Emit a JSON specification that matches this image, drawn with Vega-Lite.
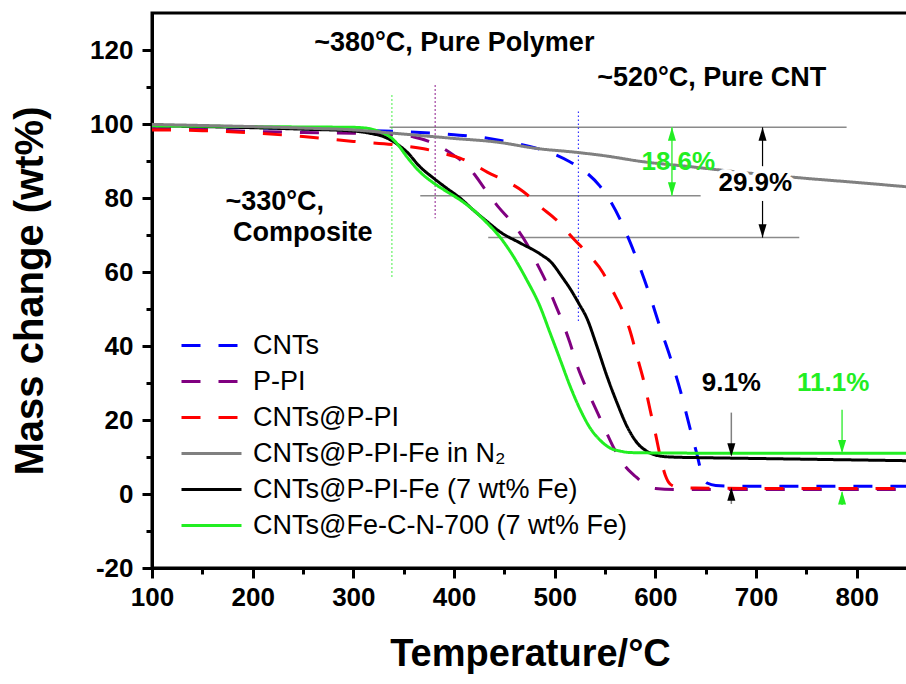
{
  "$schema": "https://vega.github.io/schema/vega-lite/v6.json",
  "autosize": {"type": "none"},
  "padding": {"left": 152, "top": 13, "right": 0, "bottom": 116},
  "width": 756,
  "height": 555,
  "config": {
    "view": {"stroke": "black", "strokeWidth": 3},
    "font": "Liberation Sans",
    "legend": {
      "orient": "none", "legendX": 46, "legendY": 319, "padding": 0,
      "labelFont": "Liberation Sans", "labelFontSize": 27, "labelColor": "black", "labelLimit": 0,
      "labelOffset": 28, "rowPadding": 8,
      "symbolType": "M-3,0H3", "symbolSize": 400, "symbolStrokeWidth": 3
    }
  },
  "datasets": {
    "curves": [
      {"series":"CNTs","T":100,"m":99.5},{"series":"CNTs","T":150,"m":99.3},{"series":"CNTs","T":200,"m":99.0},{"series":"CNTs","T":250,"m":98.7},{"series":"CNTs","T":300,"m":98.3},{"series":"CNTs","T":350,"m":97.9},{"series":"CNTs","T":400,"m":97.1},{"series":"CNTs","T":430,"m":96.3},{"series":"CNTs","T":460,"m":94.8},{"series":"CNTs","T":480,"m":93.6},{"series":"CNTs","T":500,"m":91.8},{"series":"CNTs","T":515,"m":89.8},{"series":"CNTs","T":530,"m":87.2},{"series":"CNTs","T":545,"m":83.2},{"series":"CNTs","T":555,"m":79.3},{"series":"CNTs","T":565,"m":74.2},{"series":"CNTs","T":575,"m":68.0},{"series":"CNTs","T":585,"m":61.0},{"series":"CNTs","T":595,"m":53.3},{"series":"CNTs","T":605,"m":44.8},{"series":"CNTs","T":615,"m":36.8},{"series":"CNTs","T":625,"m":27.8},{"series":"CNTs","T":635,"m":17.2},{"series":"CNTs","T":641,"m":11.1},{"series":"CNTs","T":647,"m":4.7},{"series":"CNTs","T":652,"m":2.9},{"series":"CNTs","T":660,"m":2.3},{"series":"CNTs","T":680,"m":2.1},{"series":"CNTs","T":750,"m":2.1},{"series":"CNTs","T":851,"m":2.1},
      {"series":"P-PI","T":100,"m":98.8},{"series":"P-PI","T":150,"m":98.5},{"series":"P-PI","T":200,"m":98.0},{"series":"P-PI","T":250,"m":97.7},{"series":"P-PI","T":300,"m":97.5},{"series":"P-PI","T":340,"m":97.1},{"series":"P-PI","T":360,"m":96.5},{"series":"P-PI","T":375,"m":95.3},{"series":"P-PI","T":388,"m":93.6},{"series":"P-PI","T":400,"m":91.5},{"series":"P-PI","T":410,"m":89.5},{"series":"P-PI","T":420,"m":86.5},{"series":"P-PI","T":430,"m":82.7},{"series":"P-PI","T":444,"m":77.6},{"series":"P-PI","T":458,"m":73.3},{"series":"P-PI","T":473,"m":67.3},{"series":"P-PI","T":482,"m":62.5},{"series":"P-PI","T":492,"m":57.0},{"series":"P-PI","T":499,"m":52.3},{"series":"P-PI","T":507,"m":47.0},{"series":"P-PI","T":515,"m":41.0},{"series":"P-PI","T":522,"m":35.0},{"series":"P-PI","T":530,"m":29.5},{"series":"P-PI","T":540,"m":23.5},{"series":"P-PI","T":550,"m":17.5},{"series":"P-PI","T":560,"m":11.8},{"series":"P-PI","T":570,"m":7.5},{"series":"P-PI","T":580,"m":4.8},{"series":"P-PI","T":590,"m":2.6},{"series":"P-PI","T":600,"m":1.5},{"series":"P-PI","T":620,"m":1.2},{"series":"P-PI","T":851,"m":1.2},
      {"series":"CNTs@P-PI","T":100,"m":98.4},{"series":"CNTs@P-PI","T":150,"m":98.2},{"series":"CNTs@P-PI","T":200,"m":97.6},{"series":"CNTs@P-PI","T":250,"m":96.6},{"series":"CNTs@P-PI","T":300,"m":95.3},{"series":"CNTs@P-PI","T":340,"m":94.4},{"series":"CNTs@P-PI","T":370,"m":93.3},{"series":"CNTs@P-PI","T":390,"m":92.0},{"series":"CNTs@P-PI","T":406,"m":90.8},{"series":"CNTs@P-PI","T":420,"m":89.0},{"series":"CNTs@P-PI","T":433,"m":87.0},{"series":"CNTs@P-PI","T":453,"m":84.4},{"series":"CNTs@P-PI","T":469,"m":81.7},{"series":"CNTs@P-PI","T":486,"m":77.6},{"series":"CNTs@P-PI","T":502,"m":74.0},{"series":"CNTs@P-PI","T":518,"m":69.2},{"series":"CNTs@P-PI","T":532,"m":65.2},{"series":"CNTs@P-PI","T":548,"m":59.8},{"series":"CNTs@P-PI","T":558,"m":54.7},{"series":"CNTs@P-PI","T":568,"m":49.2},{"series":"CNTs@P-PI","T":575,"m":44.0},{"series":"CNTs@P-PI","T":582,"m":37.0},{"series":"CNTs@P-PI","T":589,"m":30.0},{"series":"CNTs@P-PI","T":595,"m":22.5},{"series":"CNTs@P-PI","T":600,"m":16.5},{"series":"CNTs@P-PI","T":605,"m":10.0},{"series":"CNTs@P-PI","T":610,"m":5.0},{"series":"CNTs@P-PI","T":615,"m":2.6},{"series":"CNTs@P-PI","T":622,"m":1.9},{"series":"CNTs@P-PI","T":640,"m":1.6},{"series":"CNTs@P-PI","T":700,"m":1.5},{"series":"CNTs@P-PI","T":851,"m":1.5},
      {"series":"CNTs@P-PI-Fe (7 wt% Fe)","T":100,"m":99.6},{"series":"CNTs@P-PI-Fe (7 wt% Fe)","T":150,"m":99.3},{"series":"CNTs@P-PI-Fe (7 wt% Fe)","T":200,"m":99.0},{"series":"CNTs@P-PI-Fe (7 wt% Fe)","T":250,"m":98.6},{"series":"CNTs@P-PI-Fe (7 wt% Fe)","T":300,"m":98.1},{"series":"CNTs@P-PI-Fe (7 wt% Fe)","T":320,"m":97.3},{"series":"CNTs@P-PI-Fe (7 wt% Fe)","T":330,"m":96.6},{"series":"CNTs@P-PI-Fe (7 wt% Fe)","T":340,"m":95.2},{"series":"CNTs@P-PI-Fe (7 wt% Fe)","T":353,"m":92.5},{"series":"CNTs@P-PI-Fe (7 wt% Fe)","T":366,"m":88.5},{"series":"CNTs@P-PI-Fe (7 wt% Fe)","T":380,"m":85.3},{"series":"CNTs@P-PI-Fe (7 wt% Fe)","T":393,"m":82.6},{"series":"CNTs@P-PI-Fe (7 wt% Fe)","T":406,"m":80.0},{"series":"CNTs@P-PI-Fe (7 wt% Fe)","T":419,"m":76.8},{"series":"CNTs@P-PI-Fe (7 wt% Fe)","T":433,"m":73.6},{"series":"CNTs@P-PI-Fe (7 wt% Fe)","T":446,"m":70.8},{"series":"CNTs@P-PI-Fe (7 wt% Fe)","T":466,"m":67.8},{"series":"CNTs@P-PI-Fe (7 wt% Fe)","T":486,"m":64.8},{"series":"CNTs@P-PI-Fe (7 wt% Fe)","T":497,"m":62.5},{"series":"CNTs@P-PI-Fe (7 wt% Fe)","T":507,"m":58.8},{"series":"CNTs@P-PI-Fe (7 wt% Fe)","T":516,"m":55.2},{"series":"CNTs@P-PI-Fe (7 wt% Fe)","T":524,"m":51.5},{"series":"CNTs@P-PI-Fe (7 wt% Fe)","T":532,"m":47.5},{"series":"CNTs@P-PI-Fe (7 wt% Fe)","T":542,"m":39.9},{"series":"CNTs@P-PI-Fe (7 wt% Fe)","T":552,"m":31.8},{"series":"CNTs@P-PI-Fe (7 wt% Fe)","T":562,"m":24.6},{"series":"CNTs@P-PI-Fe (7 wt% Fe)","T":572,"m":18.2},{"series":"CNTs@P-PI-Fe (7 wt% Fe)","T":582,"m":13.8},{"series":"CNTs@P-PI-Fe (7 wt% Fe)","T":592,"m":11.5},{"series":"CNTs@P-PI-Fe (7 wt% Fe)","T":602,"m":10.4},{"series":"CNTs@P-PI-Fe (7 wt% Fe)","T":615,"m":10.0},{"series":"CNTs@P-PI-Fe (7 wt% Fe)","T":650,"m":9.8},{"series":"CNTs@P-PI-Fe (7 wt% Fe)","T":700,"m":9.6},{"series":"CNTs@P-PI-Fe (7 wt% Fe)","T":750,"m":9.4},{"series":"CNTs@P-PI-Fe (7 wt% Fe)","T":800,"m":9.2},{"series":"CNTs@P-PI-Fe (7 wt% Fe)","T":851,"m":9.0},
      {"series":"CNTs@Fe-C-N-700 (7 wt% Fe)","T":100,"m":99.5},{"series":"CNTs@Fe-C-N-700 (7 wt% Fe)","T":150,"m":99.4},{"series":"CNTs@Fe-C-N-700 (7 wt% Fe)","T":200,"m":99.3},{"series":"CNTs@Fe-C-N-700 (7 wt% Fe)","T":250,"m":99.2},{"series":"CNTs@Fe-C-N-700 (7 wt% Fe)","T":300,"m":99.1},{"series":"CNTs@Fe-C-N-700 (7 wt% Fe)","T":315,"m":98.8},{"series":"CNTs@Fe-C-N-700 (7 wt% Fe)","T":327,"m":97.8},{"series":"CNTs@Fe-C-N-700 (7 wt% Fe)","T":335,"m":96.8},{"series":"CNTs@Fe-C-N-700 (7 wt% Fe)","T":340,"m":95.7},{"series":"CNTs@Fe-C-N-700 (7 wt% Fe)","T":346,"m":93.8},{"series":"CNTs@Fe-C-N-700 (7 wt% Fe)","T":353,"m":91.2},{"series":"CNTs@Fe-C-N-700 (7 wt% Fe)","T":366,"m":87.1},{"series":"CNTs@Fe-C-N-700 (7 wt% Fe)","T":380,"m":84.0},{"series":"CNTs@Fe-C-N-700 (7 wt% Fe)","T":393,"m":81.7},{"series":"CNTs@Fe-C-N-700 (7 wt% Fe)","T":406,"m":79.5},{"series":"CNTs@Fe-C-N-700 (7 wt% Fe)","T":419,"m":76.8},{"series":"CNTs@Fe-C-N-700 (7 wt% Fe)","T":433,"m":73.2},{"series":"CNTs@Fe-C-N-700 (7 wt% Fe)","T":446,"m":69.3},{"series":"CNTs@Fe-C-N-700 (7 wt% Fe)","T":459,"m":64.2},{"series":"CNTs@Fe-C-N-700 (7 wt% Fe)","T":472,"m":58.0},{"series":"CNTs@Fe-C-N-700 (7 wt% Fe)","T":485,"m":51.0},{"series":"CNTs@Fe-C-N-700 (7 wt% Fe)","T":495.5,"m":43.5},{"series":"CNTs@Fe-C-N-700 (7 wt% Fe)","T":505.5,"m":36.3},{"series":"CNTs@Fe-C-N-700 (7 wt% Fe)","T":515.4,"m":29.1},{"series":"CNTs@Fe-C-N-700 (7 wt% Fe)","T":525.4,"m":22.8},{"series":"CNTs@Fe-C-N-700 (7 wt% Fe)","T":535.3,"m":17.8},{"series":"CNTs@Fe-C-N-700 (7 wt% Fe)","T":545.3,"m":14.5},{"series":"CNTs@Fe-C-N-700 (7 wt% Fe)","T":555.2,"m":12.4},{"series":"CNTs@Fe-C-N-700 (7 wt% Fe)","T":565,"m":11.6},{"series":"CNTs@Fe-C-N-700 (7 wt% Fe)","T":575,"m":11.2},{"series":"CNTs@Fe-C-N-700 (7 wt% Fe)","T":600,"m":11.1},{"series":"CNTs@Fe-C-N-700 (7 wt% Fe)","T":700,"m":11.0},{"series":"CNTs@Fe-C-N-700 (7 wt% Fe)","T":851,"m":11.0},
      {"series":"CNTs@P-PI-Fe in N₂","T":100,"m":99.9},{"series":"CNTs@P-PI-Fe in N₂","T":150,"m":99.6},{"series":"CNTs@P-PI-Fe in N₂","T":200,"m":99.3},{"series":"CNTs@P-PI-Fe in N₂","T":250,"m":98.9},{"series":"CNTs@P-PI-Fe in N₂","T":300,"m":98.4},{"series":"CNTs@P-PI-Fe in N₂","T":340,"m":97.5},{"series":"CNTs@P-PI-Fe in N₂","T":400,"m":96.1},{"series":"CNTs@P-PI-Fe in N₂","T":443,"m":95.1},{"series":"CNTs@P-PI-Fe in N₂","T":482,"m":93.4},{"series":"CNTs@P-PI-Fe in N₂","T":523,"m":92.3},{"series":"CNTs@P-PI-Fe in N₂","T":550,"m":91.4},{"series":"CNTs@P-PI-Fe in N₂","T":588,"m":89.8},{"series":"CNTs@P-PI-Fe in N₂","T":630,"m":88.6},{"series":"CNTs@P-PI-Fe in N₂","T":694,"m":86.7},{"series":"CNTs@P-PI-Fe in N₂","T":750,"m":85.3},{"series":"CNTs@P-PI-Fe in N₂","T":800,"m":84.2},{"series":"CNTs@P-PI-Fe in N₂","T":851,"m":83.0}
    ],
    "hguides": [{"T":336,"T2":790,"m":99.1},{"T":366.5,"T2":645,"m":80.6},{"T":434,"T2":743,"m":69.3}],
    "vguides": [{"series":"CNTs@Fe-C-N-700 (7 wt% Fe)","T":338.3,"m":107.8,"m2":58.4},{"series":"P-PI","T":381.3,"m":110.5,"m2":74.5},{"series":"CNTs","T":523.6,"m":103.4,"m2":46.5}],
    "blackShafts": [{"T":706.5,"m":99.1,"m2":88.6},{"T":706.5,"m":79.2,"m2":69.3}],
    "grayShafts": [{"T":675.5,"m":22,"m2":11},{"T":675.5,"m":-2.7,"m2":1}],
    "greenShafts": [{"T":616.5,"m":99.1,"m2":80.6},{"T":785.5,"m":22.8,"m2":11.5},{"T":785.5,"m":-3,"m2":0.5}],
    "blackHeads": [{"T":706.5,"m":99.1,"dir":"up"},{"T":706.5,"m":69.3,"dir":"down"},{"T":675.5,"m":10.1,"dir":"down"},{"T":675.5,"m":1.8,"dir":"up"}],
    "greenHeads": [{"T":616.5,"m":99.1,"dir":"up"},{"T":616.5,"m":80.6,"dir":"down"},{"T":785.5,"m":11,"dir":"down"},{"T":785.5,"m":0.8,"dir":"up"}],
    "titleTexts": [{"T":400.3,"m":121.9,"label":"~380°C, Pure Polymer"},{"T":656,"m":112.4,"label":"~520°C, Pure CNT"},{"T":222,"m":79,"label":"~330°C,"},{"T":249.8,"m":70.5,"label":"Composite"}],
    "blackTexts": [{"T":699.3,"m":84.1,"label":"29.9%"},{"T":675.5,"m":30,"label":"9.1%"}],
    "greenTexts": [{"T":622.8,"m":89.7,"label":"18.6%"},{"T":776.6,"m":30,"label":"11.1%"}]
  },
  "resolve": {"axis": {"x": "independent", "y": "independent"}},
  "layer": [
    {
      "data": {"name": "hguides"},
      "mark": {"type": "rule", "color": "#8a8a8a", "strokeWidth": 1.5},
      "encoding": {
        "x": {"field": "T", "type": "quantitative", "scale": {"domain": [100, 851], "nice": false, "zero": false},
              "axis": {"orient": "bottom", "values": [150,250,350,450,550,650,750], "labels": false, "title": null, "domain": false, "grid": false, "tickSize": 6, "tickWidth": 3, "tickColor": "black"}},
        "x2": {"field": "T2"},
        "y": {"field": "m", "type": "quantitative", "scale": {"domain": [-20, 130], "nice": false, "zero": false},
              "axis": {"orient": "left", "values": [-10,10,30,50,70,90,110], "labels": false, "title": null, "domain": false, "grid": false, "tickSize": 6, "tickWidth": 3, "tickColor": "black"}}
      }
    },
    {
      "data": {"name": "vguides"},
      "mark": {"type": "rule", "strokeWidth": 1.2, "strokeDash": [1.5, 2.5]},
      "encoding": {
        "x": {"field": "T", "type": "quantitative", "axis": null},
        "y": {"field": "m", "type": "quantitative", "axis": null},
        "y2": {"field": "m2"},
        "stroke": {"field": "series", "type": "nominal", "legend": null,
                   "scale": {"domain": ["CNTs@Fe-C-N-700 (7 wt% Fe)", "P-PI", "CNTs"], "range": ["#33ee33", "#800080", "#3333ff"]}}
      }
    },
    {
      "data": {"name": "curves"},
      "mark": {"type": "line", "strokeWidth": 3, "interpolate": "monotone"},
      "encoding": {
        "x": {"field": "T", "type": "quantitative",
              "axis": {"orient": "bottom", "values": [100,200,300,400,500,600,700,800], "title": "Temperature/°C",
                       "titleFont": "Liberation Sans", "titleFontSize": 38, "titleFontWeight": "bold", "titleColor": "black",
                       "titleY": 97, "titleBaseline": "alphabetic",
                       "labelFont": "Liberation Sans", "labelFontSize": 26, "labelFontWeight": "bold", "labelColor": "black",
                       "labelPadding": 6, "labelFlush": false, "labelOverlap": false,
                       "tickSize": 10, "tickWidth": 3, "tickColor": "black", "domainColor": "black", "domainWidth": 3, "grid": false}},
        "y": {"field": "m", "type": "quantitative",
              "axis": {"orient": "left", "values": [-20,0,20,40,60,80,100,120], "title": "Mass change (wt%)",
                       "labelExpr": "'' + datum.value",
                       "titleFont": "Liberation Sans", "titleFontSize": 40, "titleFontWeight": "bold", "titleColor": "black",
                       "titleX": -110, "titleBaseline": "alphabetic",
                       "labelFont": "Liberation Sans", "labelFontSize": 26, "labelFontWeight": "bold", "labelColor": "black",
                       "labelPadding": 9, "labelFlush": false, "labelOverlap": false,
                       "tickSize": 10, "tickWidth": 3, "tickColor": "black", "domainColor": "black", "domainWidth": 3, "grid": false}},
        "color": {"field": "series", "type": "nominal", "legend": {"title": null, "symbolType": "M-3,0H3"},
                  "scale": {"domain": ["CNTs", "P-PI", "CNTs@P-PI", "CNTs@P-PI-Fe in N₂", "CNTs@P-PI-Fe (7 wt% Fe)", "CNTs@Fe-C-N-700 (7 wt% Fe)"],
                            "range": ["#0000ff", "#800080", "#ff0000", "#808080", "#000000", "#22ee22"]}},
        "strokeDash": {"field": "series", "type": "nominal", "legend": {"title": null, "symbolType": "M-3,0H3"},
                       "scale": {"domain": ["CNTs", "P-PI", "CNTs@P-PI", "CNTs@P-PI-Fe in N₂", "CNTs@P-PI-Fe (7 wt% Fe)", "CNTs@Fe-C-N-700 (7 wt% Fe)"],
                                 "range": [[19, 18], [19, 18], [19, 18], [1, 0], [1, 0], [1, 0]]}}
      }
    },
    {
      "data": {"name": "blackShafts"},
      "mark": {"type": "rule", "color": "black", "strokeWidth": 1.2},
      "encoding": {"x": {"field": "T", "type": "quantitative", "axis": null}, "y": {"field": "m", "type": "quantitative", "axis": null}, "y2": {"field": "m2"}}
    },
    {
      "data": {"name": "grayShafts"},
      "mark": {"type": "rule", "color": "#808080", "strokeWidth": 1.5},
      "encoding": {"x": {"field": "T", "type": "quantitative", "axis": null}, "y": {"field": "m", "type": "quantitative", "axis": null}, "y2": {"field": "m2"}}
    },
    {
      "data": {"name": "greenShafts"},
      "mark": {"type": "rule", "color": "#44ee44", "strokeWidth": 1.5},
      "encoding": {"x": {"field": "T", "type": "quantitative", "axis": null}, "y": {"field": "m", "type": "quantitative", "axis": null}, "y2": {"field": "m2"}}
    },
    {
      "data": {"name": "blackHeads"},
      "mark": {"type": "point", "filled": true, "color": "black", "size": 180, "opacity": 1, "strokeWidth": 0},
      "encoding": {"x": {"field": "T", "type": "quantitative", "axis": null}, "y": {"field": "m", "type": "quantitative", "axis": null},
                   "shape": {"field": "dir", "type": "nominal", "legend": null, "scale": {"domain": ["up", "down"], "range": ["M0,0L-0.6,2L0.6,2Z", "M0,0L-0.6,-2L0.6,-2Z"]}}}
    },
    {
      "data": {"name": "greenHeads"},
      "mark": {"type": "point", "filled": true, "color": "#22ee22", "size": 180, "opacity": 1, "strokeWidth": 0},
      "encoding": {"x": {"field": "T", "type": "quantitative", "axis": null}, "y": {"field": "m", "type": "quantitative", "axis": null},
                   "shape": {"field": "dir", "type": "nominal", "legend": null}}
    },
    {
      "data": {"name": "titleTexts"},
      "mark": {"type": "text", "font": "Liberation Sans", "fontSize": 27, "fontWeight": "bold", "color": "black", "align": "center", "baseline": "middle"},
      "encoding": {"x": {"field": "T", "type": "quantitative", "axis": null}, "y": {"field": "m", "type": "quantitative", "axis": null}, "text": {"field": "label"}}
    },
    {
      "data": {"name": "blackTexts"},
      "transform": [{"filter": "datum.label == '29.9%'"}],
      "mark": {"type": "text", "font": "Liberation Sans", "fontSize": 26, "fontWeight": "bold", "color": "white", "stroke": "white", "strokeWidth": 8, "align": "center", "baseline": "middle"},
      "encoding": {"x": {"field": "T", "type": "quantitative", "axis": null}, "y": {"field": "m", "type": "quantitative", "axis": null}, "text": {"field": "label"}}
    },
    {
      "data": {"name": "blackTexts"},
      "mark": {"type": "text", "font": "Liberation Sans", "fontSize": 26, "fontWeight": "bold", "color": "black", "align": "center", "baseline": "middle"},
      "encoding": {"x": {"field": "T", "type": "quantitative", "axis": null}, "y": {"field": "m", "type": "quantitative", "axis": null}, "text": {"field": "label"}}
    },
    {
      "data": {"name": "greenTexts"},
      "mark": {"type": "text", "font": "Liberation Sans", "fontSize": 26, "fontWeight": "bold", "color": "#22ee22", "align": "center", "baseline": "middle"},
      "encoding": {"x": {"field": "T", "type": "quantitative", "axis": null}, "y": {"field": "m", "type": "quantitative", "axis": null}, "text": {"field": "label"}}
    }
  ]
}
